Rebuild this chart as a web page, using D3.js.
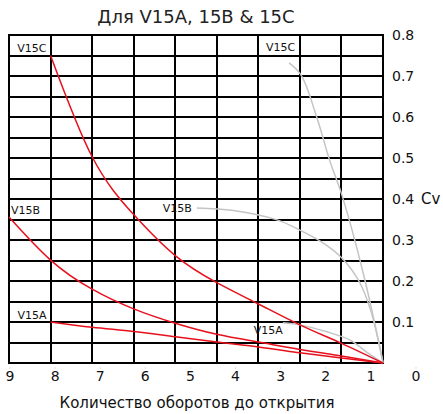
<!DOCTYPE html>
<html>
<head>
<meta charset="utf-8">
<script src="https://cdn.jsdelivr.net/npm/d3@7"></script>
<style>
  html, body { margin: 0; padding: 0; background: #fff; }
  text { font-family: "DejaVu Sans", Verdana, sans-serif; }
</style>
</head>
<body>
<svg id="chart" width="443" height="414"></svg>
<script>
// ---- data ----
const title = "Для V15A, 15B & 15C";
const xTitle = "Количество оборотов до открытия";
const yTitle = "Cv";
const xTickLabels = [9, 8, 7, 6, 5, 4, 3, 2, 1, 0];
const yTickLabels = [0.1, 0.2, 0.3, 0.4, 0.5, 0.6, 0.7, 0.8];
const gridCols = [0, 1, 2, 3, 4, 5, 6, 7, 8, 9];
const gridRows = [0, 0.05, 0.1, 0.15, 0.2, 0.25, 0.3, 0.35, 0.4, 0.45, 0.5, 0.55, 0.6, 0.65, 0.7, 0.75, 0.8];

// red curves: [turns, Cv]
const redV15C = [[8, 0.75], [7, 0.503], [6, 0.362], [5, 0.262], [4, 0.196], [3, 0.144], [2, 0.093], [1, 0.048], [0, 0]];
const redV15B = [[9, 0.356], [8, 0.251], [7, 0.180], [6, 0.132], [5, 0.097], [4, 0.070], [3, 0.051], [2, 0.033], [1, 0.017], [0, 0]];
const redV15A = [[8, 0.100], [7, 0.087], [6, 0.077], [5, 0.064], [4, 0.051], [3, 0.039], [2, 0.025], [1, 0.012], [0, 0]];
// grey curves
const greyV15C = [[2.26, 0.732], [1.97, 0.702], [1.59, 0.598], [1.28, 0.493], [0.99, 0.41], [0.43, 0.2], [0, 0]];
const greyV15B = [[4.48, 0.378], [3.6, 0.372], [2.55, 0.349], [2.0, 0.324], [1.4, 0.29], [0.99, 0.256], [0.58, 0.2], [0.3, 0.13], [0.1, 0.05], [0, 0]];
const greyV15A = [[2.41, 0.098], [2.0, 0.093], [1.35, 0.076], [0.79, 0.056], [0.385, 0.026], [0, 0]];
const seriesNames = ["V15C", "V15B", "V15A"];

// ---- layout ----
const svg = d3.select("#chart");
const x = d3.scaleLinear().domain([9, 0]).range([9, 383]);
const y = d3.scaleLinear().domain([0, 0.8]).range([363, 35]);
const xLab = d3.scaleLinear().domain([9, 0]).range([10, 416]);

// grid
const g = svg.append("g");
g.selectAll("line.v").data(gridCols).join("line")
  .attr("x1", d => Math.round(x(d))).attr("x2", d => Math.round(x(d)))
  .attr("y1", y(0.8) - 1).attr("y2", y(0) + 1)
  .attr("stroke", "#000").attr("stroke-width", 2);
g.selectAll("line.h").data(gridRows).join("line")
  .attr("x1", x(9) - 1).attr("x2", x(0) + 1)
  .attr("y1", d => Math.round(y(d))).attr("y2", d => Math.round(y(d)))
  .attr("stroke", "#000").attr("stroke-width", 2);

// faint bottom ticks (label axis)
svg.append("g").selectAll("line").data(xTickLabels).join("line")
  .attr("x1", d => xLab(d)).attr("x2", d => xLab(d))
  .attr("y1", 367).attr("y2", 369)
  .attr("stroke", "#ddd").attr("stroke-width", 1);

// curves
const sortPts = a => a.slice().sort((p, q) => x(p[0]) - x(q[0]));
const greyLine = d3.line().x(d => x(d[0])).y(d => y(d[1])).curve(d3.curveCatmullRom.alpha(0.5));
const redLine = d3.line().x(d => x(d[0])).y(d => y(d[1])).curve(d3.curveNatural);
[greyV15C, greyV15B, greyV15A].forEach(s => {
  svg.append("path").attr("d", greyLine(sortPts(s)))
    .attr("fill", "none").attr("stroke", "#c4c4c4").attr("stroke-width", 1.5);
});
[redV15C, redV15B, redV15A].forEach(s => {
  svg.append("path").attr("d", redLine(sortPts(s)))
    .attr("fill", "none").attr("stroke", "#e8101c").attr("stroke-width", 1.5);
});

// series labels
const lab = (txt, px, py, anchor) => svg.append("text").text(txt)
  .attr("x", px).attr("y", py).attr("text-anchor", anchor)
  .attr("font-size", 11).attr("fill", "#111");
lab(seriesNames[0], x(redV15C[0][0]) - 4, y(redV15C[0][1]) - 4, "end");
lab(seriesNames[1], x(redV15B[0][0]) + 2, y(redV15B[0][1]) - 3, "start");
lab(seriesNames[2], x(redV15A[0][0]) - 4, y(redV15A[0][1]) - 3, "end");
lab(seriesNames[0], x(greyV15C[0][0]) + 6, y(greyV15C[0][1]) - 12, "end");
lab(seriesNames[1], x(greyV15B[0][0]) - 5, y(greyV15B[0][1]) + 4, "end");
lab(seriesNames[2], x(greyV15A[0][0]) + 0, y(greyV15A[0][1]) + 11, "end");

// axes labels
svg.append("g").selectAll("text").data(yTickLabels).join("text")
  .attr("x", 392).attr("y", d => y(d)).attr("dy", "0.36em")
  .attr("font-size", 14).attr("fill", "#111")
  .text(d => d3.format(".1f")(d));
svg.append("text").attr("x", 421).attr("y", y(0.4)).attr("dy", "0.36em")
  .attr("font-size", 15).attr("fill", "#111").text(yTitle);
svg.append("g").selectAll("text").data(xTickLabels).join("text")
  .attr("x", d => xLab(d)).attr("y", 376).attr("dy", "0.36em")
  .attr("text-anchor", "middle").attr("font-size", 14).attr("fill", "#111")
  .text(d => d);
svg.append("text").attr("x", 197).attr("y", 403).attr("dy", "0.36em")
  .attr("text-anchor", "middle").attr("font-size", 15).attr("fill", "#111").text(xTitle);
svg.append("text").attr("x", 196).attr("y", 17).attr("dy", "0.36em")
  .attr("text-anchor", "middle").attr("font-size", 18).attr("fill", "#222").text(title);
</script>
</body>
</html>
